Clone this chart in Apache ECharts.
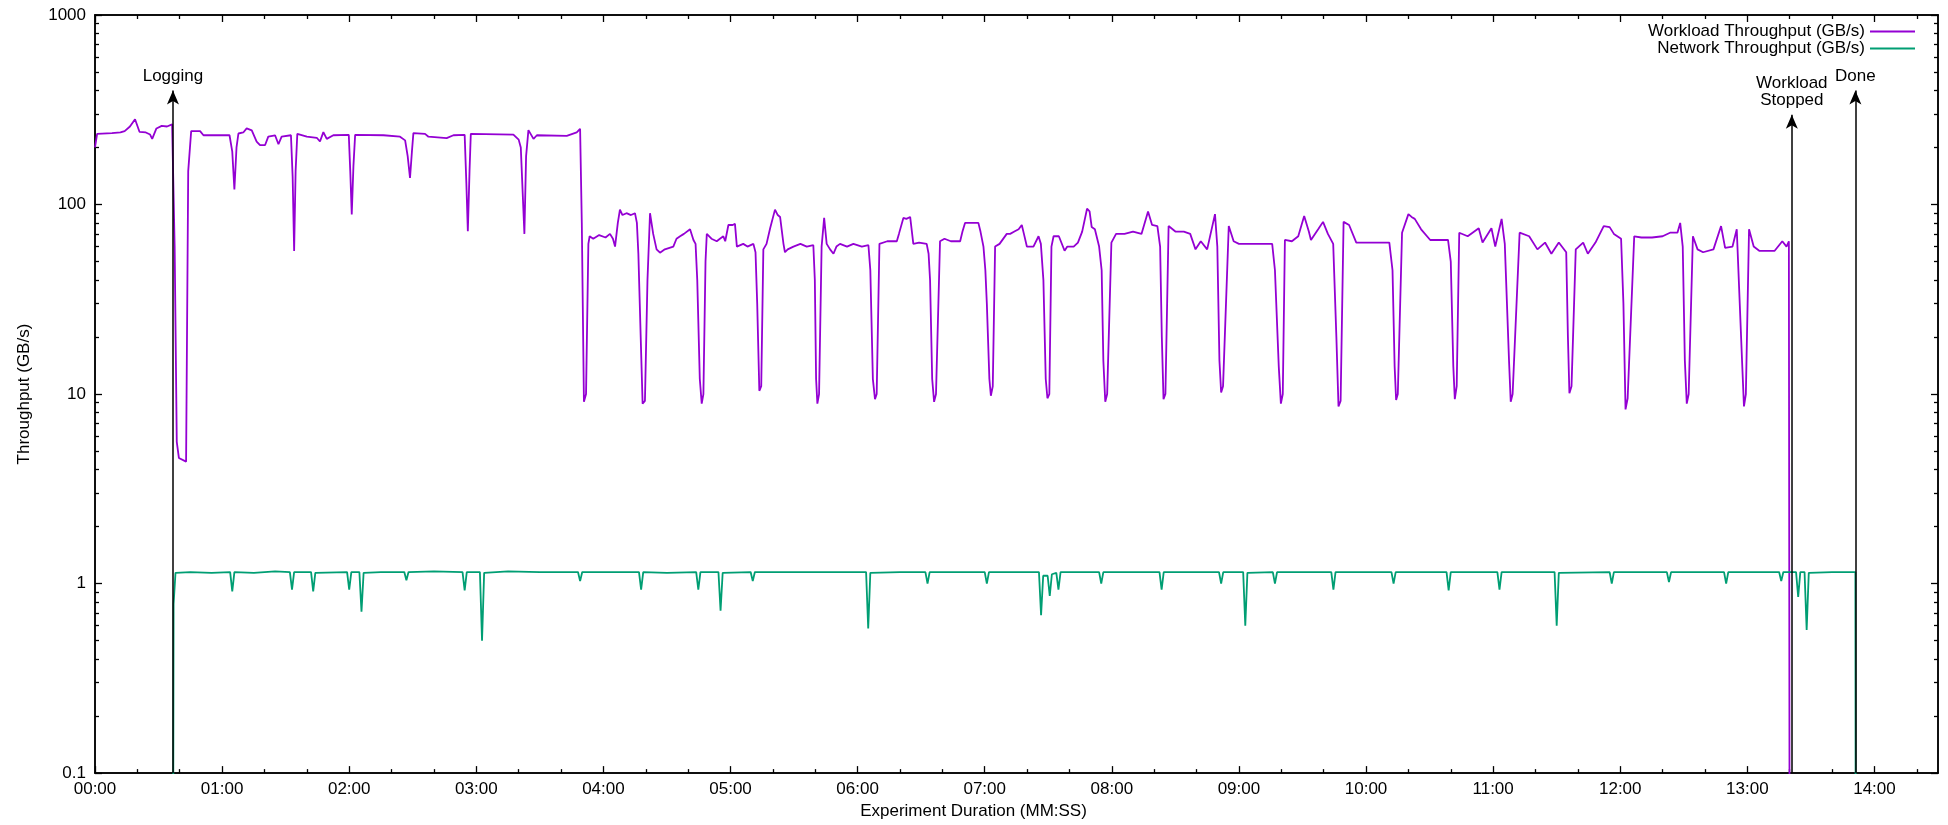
<!DOCTYPE html>
<html>
<head>
<meta charset="utf-8">
<script src="https://cdn.jsdelivr.net/npm/echarts@6/dist/echarts.min.js"></script>
<style>
html, body { margin: 0; padding: 0; background: #fff; }
#main { width: 1948px; height: 825px; }
</style>
</head>
<body>
<div id="main"></div>
<script>
// time in seconds, throughput in GB/s
var workload = [
  [0,200],[1,236],[8,238],[12,240],[14,244],[16.5,258],[18.9,282],[21,242],[24,240],[26,234],[27,222],
  [29,252],[31.5,260],[34,258],[36.4,265],[37.6,60],[38.6,5.6],[39.6,4.6],[43,4.4],[44,150],[45.4,244],
  [49.6,244],[51.2,232],[63.5,232],[64.8,190],[65.8,120],[66.8,200],[67.7,237],[70,240],[71.6,252],
  [74,246],[76.3,215],[77.9,206],[80.3,206],[81.8,228],[85,232],[86.6,208],[88.1,228],[92.5,232],
  [93.3,140],[94,56.8],[94.7,150],[95.5,236],[100,228],[104.7,225],[106.2,215],[107.8,241],[109.4,222],
  [112.5,232],[119.8,233],[120.5,150],[121.2,88.5],[122,160],[122.8,233],[136.2,232],[144,228],
  [146.4,218],[147.6,180],[148.7,138],[149.6,190],[150.3,238],[155.8,236],[157.4,228],[166,224],
  [169.2,232],[174.5,233],[175.3,130],[176,72.4],[176.8,150],[177.4,236],[197.5,234],[200,220],
  [201,200],[202.7,70],[203.5,180],[204.6,247],[207,222],[208.6,232],[222.7,230],[227.4,240],[229,251],
  [229.8,80],[230.8,9.1],[231.8,10],[232.9,62],[233.5,68],[235.2,66],[238,69],[241,67],[243.1,70],
  [244.5,66],[245.5,60],[246.8,80],[247.8,94],[249,88],[250.9,90],[253,88],[254.9,90],[255.8,80],
  [256.5,55],[257.6,20],[258.5,8.9],[259.6,9.2],[260.8,40],[262,90],[263.5,70],[265.1,58],[266.7,55.7],
  [269,58],[273,60],[274.5,66],[276.2,68],[278,70],[280.9,74],[282.5,65],[283.5,62],[284.3,40],
  [285.5,12],[286.4,8.9],[287.2,10],[288.2,50],[288.8,70],[291,66],[293.5,64],[295,66],[296.6,68],
  [297.5,64],[299,78],[301,78],[302.1,79],[303,60],[306,62],[308,60],[310.8,62],[311.8,56],[312.6,30],
  [313.6,10.4],[314.5,11],[315.5,58],[317,62],[318.7,75],[321,94],[322.3,88],[323.4,86],[325,62],
  [325.7,56],[327,58],[329.7,60],[333,62],[336,60],[339.1,61],[339.8,40],[340.4,12],[341,8.9],
  [341.8,10],[343,60],[344.2,85],[345.4,62],[347,58],[348.6,55],[350,60],[351.7,62],[355,60],[358,62],
  [362,60],[365.1,61],[366,45],[367.2,12],[368.2,9.4],[369,10],[370.3,62],[374,64],[378.5,64],
  [379.5,70],[381.6,85],[383,84],[384.8,86],[386.3,62],[389,63],[392.6,62],[393.5,55],[394.2,40],
  [395.2,12],[396.1,9.1],[397,10],[398.9,64],[401,66],[404,64],[408.4,64],[409.5,72],[410.7,80],
  [414,80],[417,80],[418,72],[419.4,60],[420.3,45],[421,30],[422.2,12],[422.9,9.8],[423.8,11],
  [424.9,60],[427,62],[430.4,70],[432,70],[434,72],[436,74],[437.5,78],[438.5,70],[439.9,60],[443,60],
  [445.4,68],[446.5,62],[447.7,40],[448.8,12],[449.6,9.5],[450.5,10],[451.5,60],[452.5,68],[455,68],
  [457.7,57],[459,60],[462,60],[464,63],[466,72],[468.3,95],[469.5,92],[470.5,76],[472,74],[474,60],
  [475.2,45],[476,15],[476.9,9.1],[477.8,10],[479.8,63],[482,70],[486,70],[490,72],[494,70],[497.1,92],
  [499,78],[501.5,77],[502.8,60],[503.6,20],[504.4,9.4],[505.3,10],[506.8,77],[510,72],[514,72],
  [517,70],[519.5,58],[522,64],[525,58],[528.7,89],[529.8,60],[530.8,15],[531.6,10.2],[532.5,11],
  [535.2,77],[537.5,64],[540,62],[545,62],[550,62],[555.7,62],[557,45],[558.8,14],[559.8,8.9],
  [560.7,10],[561.7,65],[565,64],[568,68],[570.8,87],[573,72],[574,65],[577.4,74],[579.7,81],[582,70],
  [584.5,62],[586,20],[587,8.6],[588,9.2],[589.4,81],[592,78],[595.4,63],[600,63],[605,63],[611,63],
  [612.5,45],[613.5,14],[614.2,9.3],[615,10],[617,71],[620,89],[621.5,86],[623,84],[626,74],
  [630.3,65],[635,65],[638.7,65],[640,50],[641.2,14],[641.9,9.4],[642.8,11],[644,71],[648,68],
  [653.2,75],[655,63],[659.2,75],[661,60],[664,84],[665.5,62],[667.5,15],[668.3,9.1],[669.2,10],
  [672.5,71],[677,68],[680.9,58],[684.5,63],[687.5,55],[691,63],[694.5,56],[695.3,20],[696,10.1],
  [697,11],[699,58],[702.5,63],[704.7,55],[708.3,63],[712.2,77],[715,76],[717,70],[720.4,66],
  [721.5,30],[722.5,8.3],[723.5,9.5],[726.6,68],[730,67],[735,67],[740,68],[743.5,71],[747,71],
  [748.3,80],[749.5,60],[750.5,15],[751.4,8.9],[752.3,10],[754.3,68],[756.5,58],[759.1,56],[764,58],
  [767.6,77],[769.5,59],[773,60],[775,74],[777.5,15],[778.4,8.6],[779.3,10],[780.8,74],[783,60],
  [785.6,57],[790,57],[792.9,57],[796.5,64],[798.5,60],[799.6,64],[800,0.01]
];

var network = [
  [36.8,0.01],[37.1,0.78],[38,1.14],[45,1.15],[55,1.14],[63.8,1.15],[64.8,0.91],[65.8,1.15],[75,1.14],
  [85,1.16],[92,1.15],[93,0.93],[94,1.15],[102,1.15],[103,0.91],[104,1.14],[119,1.15],[120,0.93],
  [121,1.15],[124.8,1.15],[125.8,0.71],[126.8,1.14],[135,1.15],[146,1.15],[147,1.04],[148,1.15],
  [160,1.16],[173.5,1.15],[174.5,0.92],[175.5,1.15],[181.7,1.15],[182.7,0.5],[183.7,1.14],[195,1.16],
  [210,1.15],[228,1.15],[229,1.03],[230,1.15],[245,1.15],[256.8,1.15],[257.8,0.93],[258.8,1.15],
  [270,1.14],[283.8,1.15],[284.8,0.93],[285.8,1.15],[294.3,1.15],[295.3,0.72],[296.3,1.14],
  [309.5,1.15],[310.5,1.03],[311.5,1.15],[330,1.15],[364,1.15],[365,0.58],[366,1.14],[380,1.15],
  [392,1.15],[393,1.0],[394,1.15],[420,1.15],[421,1.0],[422,1.15],[445.6,1.15],[446.6,0.68],
  [447.6,1.1],[449.7,1.1],[450.7,0.86],[451.7,1.12],[453.8,1.14],[454.8,0.93],[455.8,1.15],
  [474,1.15],[475,1.0],[476,1.15],[502.5,1.15],[503.5,0.93],[504.5,1.15],[530.6,1.15],[531.6,1.0],
  [532.6,1.15],[542,1.15],[543,0.6],[544,1.14],[556,1.15],[557,1.0],[558,1.15],[583.6,1.15],
  [584.6,0.93],[585.6,1.15],[612,1.15],[613,1.0],[614,1.15],[638,1.15],[639,0.92],[640,1.15],
  [662,1.15],[663,0.93],[664,1.15],[689,1.15],[690,0.6],[691,1.14],[715,1.15],[716,1.0],[717,1.15],
  [742,1.15],[743,1.02],[744,1.15],[769,1.15],[770,1.0],[771,1.15],[795,1.15],[796,1.03],[797,1.15],
  [803,1.15],[804,0.85],[805,1.15],[807,1.15],[808,0.57],[809,1.14],[820,1.15],[831,1.15],[831.2,0.01]
];

var xMajorTicks = [0,60,120,180,240,300,360,420,480,540,600,660,720,780,840];
var xTickLabels = ['00:00','01:00','02:00','03:00','04:00','05:00','06:00','07:00',
  '08:00','09:00','10:00','11:00','12:00','13:00','14:00'];
var xMinorTicks = [20,40,80,100,140,160,200,220,260,280,320,340,380,400,440,460,500,520,
  560,580,620,640,680,700,740,760,800,820,860];

var yMajorTicks = [0.1,1,10,100,1000];
var yTickLabels = ['0.1','1','10','100','1000'];
var yMinorTicks = [0.2,0.3,0.4,0.5,0.6,0.7,0.8,0.9,2,3,4,5,6,7,8,9,
  20,30,40,50,60,70,80,90,200,300,400,500,600,700,800,900];

// events marked with arrows: [time s, arrow tip GB/s, label]
var events = [
  [36.8, 400, 'Logging'],
  [801, 298, 'Workload\nStopped'],
  [831, 400, 'Done']
];

var FONT = '"Liberation Sans", Arial, Helvetica, sans-serif';

function xAxisFor(pos, ticks, len, labels) {
  return {
    type: 'value', position: pos, min: 0, max: 870,
    axisLine: { show: true, onZero: false, lineStyle: { color: '#000', width: 1.5 } },
    axisTick: { show: true, inside: true, length: len, customValues: ticks,
      lineStyle: { color: '#000', width: 1.3 } },
    axisLabel: labels ? {
      show: true, customValues: ticks, margin: 8, color: '#000', fontSize: 17, fontFamily: FONT,
      formatter: function (v) {
        var i = xMajorTicks.indexOf(Math.round(v));
        return i >= 0 ? xTickLabels[i] : '';
      }
    } : { show: false },
    splitLine: { show: false }
  };
}

function yAxisFor(pos, ticks, len, labels) {
  return {
    type: 'log', logBase: 10, position: pos, min: 0.1, max: 1000,
    axisLine: { show: true, onZero: false, lineStyle: { color: '#000', width: 1.5 } },
    axisTick: { show: true, inside: true, length: len, customValues: ticks,
      lineStyle: { color: '#000', width: 1.3 } },
    axisLabel: labels ? {
      show: true, customValues: ticks, margin: 9, color: '#000', fontSize: 17, fontFamily: FONT,
      formatter: function (v) {
        for (var i = 0; i < yMajorTicks.length; i++) {
          if (Math.abs(Math.log10(v) - Math.log10(yMajorTicks[i])) < 1e-6) return yTickLabels[i];
        }
        return '';
      }
    } : { show: false },
    splitLine: { show: false }
  };
}

var xMain = xAxisFor('bottom', xMajorTicks, 7, true);
xMain.name = 'Experiment Duration (MM:SS)';
xMain.nameLocation = 'middle';
xMain.nameGap = 24;
xMain.nameTextStyle = { color: '#000', fontSize: 17, fontFamily: FONT, padding: [0, 86, 0, 0] };

var yMain = yAxisFor('left', yMajorTicks, 7, true);
yMain.name = 'Throughput (GB/s)';
yMain.nameLocation = 'middle';
yMain.nameRotate = 90;
yMain.nameGap = 62;
yMain.nameTextStyle = { color: '#000', fontSize: 17, fontFamily: FONT };

var arrowLines = events.map(function (e) {
  return [
    { coord: [e[0], 0.1] },
    { coord: [e[0], e[1]], label: { formatter: e[2] } }
  ];
});

var myChart = echarts.init(document.getElementById('main'));
var option = {
  animation: false,
  backgroundColor: '#fff',
  textStyle: { fontFamily: FONT },
  grid: { left: 95, right: 10, top: 15, bottom: 50, containLabel: false },
  legend: {
    orient: 'vertical', right: 28, top: 18, align: 'right',
    icon: 'rect', itemWidth: 45, itemHeight: 2, itemGap: 0,
    textStyle: { color: '#000', fontSize: 17, lineHeight: 15, fontFamily: FONT },
    data: ['Workload Throughput (GB/s)', 'Network Throughput (GB/s)']
  },
  xAxis: [
    xMain,
    xAxisFor('bottom', xMinorTicks, 4, false),
    xAxisFor('top', xMajorTicks, 7, false),
    xAxisFor('top', xMinorTicks, 4, false)
  ],
  yAxis: [
    yMain,
    yAxisFor('left', yMinorTicks, 4, false),
    yAxisFor('right', yMajorTicks, 7, false),
    yAxisFor('right', yMinorTicks, 4, false)
  ],
  series: [
    {
      name: 'Workload Throughput (GB/s)',
      type: 'line', symbol: 'none', showSymbol: false,
      lineStyle: { color: '#9400d3', width: 1.8 }, itemStyle: { color: '#9400d3' },
      data: workload,
      markLine: {
        silent: true, animation: false,
        symbol: ['none', 'arrow'], symbolSize: [9, 14],
        lineStyle: { color: '#000', width: 1.5, type: 'solid' },
        label: { show: true, position: 'end', distance: 6, color: '#000', fontSize: 17,
          lineHeight: 17, align: 'center', fontFamily: FONT },
        data: arrowLines
      }
    },
    {
      name: 'Network Throughput (GB/s)',
      type: 'line', symbol: 'none', showSymbol: false,
      lineStyle: { color: '#009e73', width: 1.8 }, itemStyle: { color: '#009e73' },
      data: network
    }
  ]
};
myChart.setOption(option);
window.onresize = myChart.resize;
</script>
</body>
</html>
